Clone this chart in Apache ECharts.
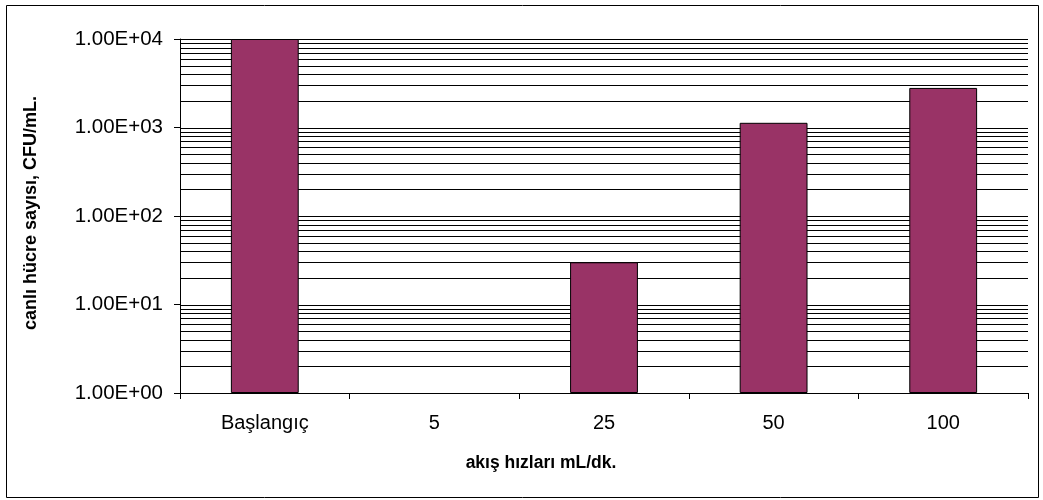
<!DOCTYPE html>
<html>
<head>
<meta charset="utf-8">
<script src="https://cdn.jsdelivr.net/npm/echarts@6/dist/echarts.min.js"></script>
<style>
  html, body { margin: 0; padding: 0; background: #fff; }
  #chart { width: 1043px; height: 500px; }
</style>
</head>
<body>
<div id="chart"></div>
<script>
// Viable cell counts per flow rate
const categories = ['Başlangıç', '5', '25', '50', '100'];
const cellCounts = [10000, null, 30, 1130, 2800];
const yTickLabels = ['1.00E+00', '1.00E+01', '1.00E+02', '1.00E+03', '1.00E+04'];
// Horizontal grid lines: every integer step inside each decade
const gridValues = [
  1, 2, 3, 4, 5, 6, 7, 8, 9,
  10, 20, 30, 40, 50, 60, 70, 80, 90,
  100, 200, 300, 400, 500, 600, 700, 800, 900,
  1000, 2000, 3000, 4000, 5000, 6000, 7000, 8000, 9000,
  10000
];

const FONT = '"Liberation Sans", Arial, sans-serif';
const chart = echarts.init(document.getElementById('chart'), null, { renderer: 'canvas' });

chart.setOption({
  animation: false,
  backgroundColor: '#ffffff',
  grid: { left: 180, right: 15, top: 39, bottom: 107, containLabel: false },
  xAxis: {
    type: 'category',
    data: categories,
    name: 'akış hızları mL/dk.',
    nameLocation: 'middle',
    nameGap: 61,
    nameTextStyle: {
      fontFamily: FONT, fontSize: 17.5, fontWeight: 'bold', color: '#000',
      padding: [0, 126, 0, 0]
    },
    axisLine: { show: true, lineStyle: { color: '#000', width: 1 } },
    axisTick: { show: true, alignWithLabel: false, length: 6, lineStyle: { color: '#000' } },
    axisLabel: { fontFamily: FONT, fontSize: 20, color: '#000', margin: 20 },
    splitLine: { show: false }
  },
  yAxis: {
    type: 'log',
    logBase: 10,
    min: 1,
    max: 10000,
    splitNumber: 4,
    name: 'canlı hücre sayısı, CFU/mL.',
    nameLocation: 'middle',
    nameGap: 140,
    nameTextStyle: {
      fontFamily: FONT, fontSize: 18, fontWeight: 'bold', color: '#000',
      padding: [0, 0, 0, 6]
    },
    axisLine: { show: true, lineStyle: { color: '#000', width: 1 } },
    axisTick: { show: true, length: 6, lineStyle: { color: '#000' } },
    axisLabel: {
      fontFamily: FONT, fontSize: 20.5, color: '#000', margin: 17,
      formatter: (v, i) => yTickLabels[i]
    },
    splitLine: { show: false },
    minorTick: { show: false },
    minorSplitLine: { show: false }
  },
  series: [
    {
      type: 'custom',
      name: 'grid',
      silent: true,
      z: 1,
      data: gridValues,
      renderItem: function (params, api) {
        const cs = params.coordSys;
        const y = Math.round(api.coord([0, api.value(0)])[1]) + 0.5;
        return {
          type: 'line',
          shape: { x1: cs.x, y1: y, x2: cs.x + cs.width, y2: y },
          style: { stroke: '#000', lineWidth: 1 }
        };
      },
      encode: { y: 0 }
    },
    {
      type: 'bar',
      name: 'CFU/mL',
      z: 3,
      data: cellCounts,
      barCategoryGap: '60%',
      itemStyle: { color: '#993366', borderColor: '#000', borderWidth: 1 }
    }
  ],
  graphic: [
    {
      type: 'rect',
      silent: true,
      shape: { x: 6.5, y: 5.5, width: 1032, height: 492 },
      style: { fill: 'none', stroke: '#000', lineWidth: 1 }
    }
  ]
});
</script>
</body>
</html>
